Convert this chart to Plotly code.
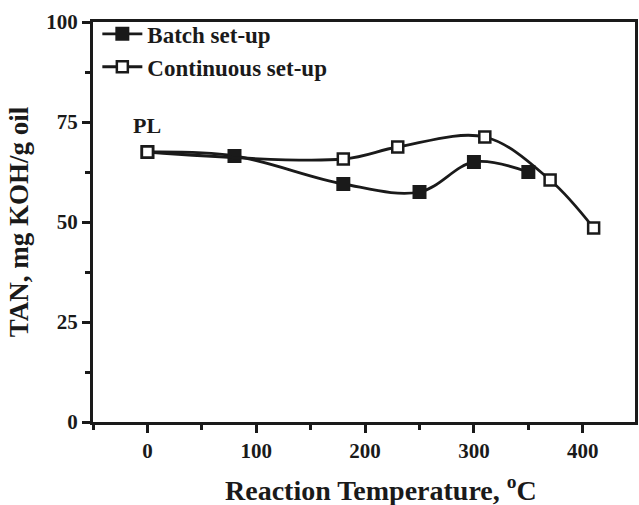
import plotly.graph_objects as go

SERIF = "Liberation Serif, Times New Roman, serif"
INK = "#1a1a1a"

batch_temp = [0, 80, 180, 250, 300, 350]
batch_tan = [67.5, 66.5, 59.5, 57.5, 65.0, 62.5]

cont_temp = [0, 180, 230, 310, 370, 410]
cont_tan = [67.5, 65.75, 68.75, 71.25, 60.5, 48.5]

x_ticks = [0, 100, 200, 300, 400]
y_ticks = [0, 25, 50, 75, 100]

fig = go.Figure()
fig.add_trace(go.Scatter(
    x=batch_temp, y=batch_tan, mode="lines+markers", name="Batch set-up",
    line=dict(color=INK, width=2.8, shape="spline", smoothing=1.0),
    marker=dict(symbol="square", size=14, color=INK),
))
fig.add_trace(go.Scatter(
    x=cont_temp, y=cont_tan, mode="lines+markers", name="Continuous set-up",
    line=dict(color=INK, width=2.8, shape="spline", smoothing=1.0),
    marker=dict(symbol="square", size=11, color="white",
                line=dict(color=INK, width=2.5)),
))

fig.add_annotation(x=0, y=70.5, text="PL", showarrow=False, yanchor="bottom",
                   font=dict(family=SERIF, size=22, color=INK, weight="bold"))
# x title as annotation: it sits a little right of the plot centre in the original
fig.add_annotation(x=0.532, y=-0.117, xref="paper", yref="paper",
                   xanchor="center", yanchor="top", showarrow=False,
                   text="Reaction Temperature, <sup>o</sup>C",
                   font=dict(family=SERIF, size=28, color=INK, weight="bold"))

fig.update_layout(
    width=639, height=505,
    margin=dict(l=93, r=1, t=22, b=83),
    paper_bgcolor="white", plot_bgcolor="white",
    font=dict(family=SERIF, color=INK, size=21, weight="bold"),
    legend=dict(x=0.008, y=1.024, xanchor="left", yanchor="top",
                bgcolor="rgba(0,0,0,0)", font=dict(size=23, weight="bold"),
                itemwidth=40, tracegroupgap=0),
    showlegend=True,
)
axis_common = dict(
    showline=True, linecolor=INK, linewidth=3, mirror=True,
    showgrid=False, zeroline=False, ticks="outside", ticklen=8, tickwidth=2.5,
    tickcolor=INK, tickfont=dict(family=SERIF, size=21, weight="bold"),
)
fig.update_xaxes(
    **axis_common, range=[-50, 448], tickvals=x_ticks,
    minor=dict(ticks="outside", dtick=50, tick0=0, ticklen=5, tickwidth=2.5, tickcolor=INK),
)
fig.update_yaxes(
    **axis_common, range=[0, 100], tickvals=y_ticks,
    minor=dict(ticks="outside", dtick=12.5, tick0=0, ticklen=5, tickwidth=2.5, tickcolor=INK),
    title=dict(text="TAN, mg KOH/g oil", standoff=10,
               font=dict(family=SERIF, size=27, weight="bold")),
)

# drop the default body margin so the 639x505 figure fills the window exactly
fig.write_html(
    "out.html",
    config={"responsive": False, "displayModeBar": False},
    post_script="document.documentElement.style.overflow='hidden';"
                "document.body.style.margin='0';document.body.style.overflow='hidden';",
)
